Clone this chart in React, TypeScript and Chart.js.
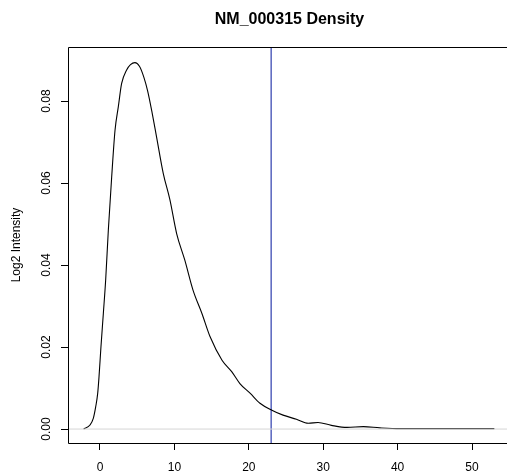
import React, { useEffect, useRef } from "react";
import { Chart, registerables } from "chart.js";

Chart.register(...registerables);

const chartTitle = "NM_000315 Density";
const yTitle = "Log2 Intensity";

const densityX = [
  -2.2, -1.34, -0.9, -0.58, -0.31, -0.13, 0.13, 0.45, 0.76, 1.12, 1.57, 2.02, 2.46, 2.91, 3.58, 4.1,
  4.7, 5.3, 5.9, 6.4, 7.0, 7.6, 8.5, 9.4, 10.3, 11.4, 12.5, 13.7, 14.8, 16.4, 17.7, 18.8, 20.2, 21.5,
  23.1, 24.6, 26.4, 28.0, 29.3, 31.1, 33.2, 35.4, 37.6, 40.3, 45.0, 53.0,
];
const densityY = [
  0.0, 0.001, 0.0026, 0.0054, 0.0087, 0.0128, 0.0201, 0.0282, 0.0363, 0.0485, 0.0615, 0.0729, 0.0786,
  0.0843, 0.0876, 0.0889, 0.0894, 0.0885, 0.0858, 0.0825, 0.0772, 0.0713, 0.0624, 0.0559, 0.0477,
  0.0412, 0.0339, 0.0282, 0.0225, 0.0168, 0.014, 0.0111, 0.0087, 0.0063, 0.0046, 0.0034, 0.0024,
  0.0014, 0.0016, 0.0009, 0.0004, 0.0006, 0.0003, 0.0001, 0.0001, 0.0001,
];
const cutoffX = 23;
const xTicks = [0, 10, 20, 30, 40, 50];
const yTicks = [0, 0.02, 0.04, 0.06, 0.08];
const yTickLabels = ["0.00", "0.02", "0.04", "0.06", "0.08"];
const xRange = [-4.3, 54.7];
const yRange = [-0.0034, 0.0932];

const FONT = "'Liberation Sans', Arial, Helvetica, sans-serif";

const framePlugin = {
  id: "frame",
  afterDatasetsDraw(chart: any) {
    const { ctx, chartArea } = chart;
    const yScale = chart.scales.y;
    ctx.save();
    ctx.strokeStyle = "#000";
    ctx.lineWidth = 1;
    ctx.beginPath();
    ctx.moveTo(chart.width + 5, Math.round(chartArea.top) + 0.5);
    ctx.lineTo(Math.round(chartArea.left) + 0.5, Math.round(chartArea.top) + 0.5);
    ctx.lineTo(Math.round(chartArea.left) + 0.5, Math.round(chartArea.bottom) + 0.5);
    ctx.lineTo(chart.width + 5, Math.round(chartArea.bottom) + 0.5);
    ctx.stroke();

    ctx.fillStyle = "#000";
    ctx.font = `bold 16px ${FONT}`;
    ctx.textAlign = "center";
    ctx.textBaseline = "alphabetic";
    ctx.fillText(chartTitle, (chartArea.left + chartArea.right) / 2 + 2, 23.5);

    ctx.font = `12px ${FONT}`;
    yTicks.forEach((v, i) => {
      const py = yScale.getPixelForValue(v);
      ctx.save();
      ctx.translate(50, py);
      ctx.rotate(-Math.PI / 2);
      ctx.textAlign = "center";
      ctx.textBaseline = "alphabetic";
      ctx.fillText(yTickLabels[i], 0, 0);
      ctx.restore();
    });

    ctx.save();
    ctx.translate(20, (chartArea.top + chartArea.bottom) / 2);
    ctx.rotate(-Math.PI / 2);
    ctx.textAlign = "center";
    ctx.textBaseline = "alphabetic";
    ctx.fillText(yTitle, 0, 0);
    ctx.restore();
    ctx.restore();
  },
};

export default function App() {
  const ref = useRef<HTMLCanvasElement | null>(null);
  useEffect(() => {
    document.body.style.margin = "0";
    const canvas = ref.current!;
    const chart = new Chart(canvas, {
      type: "line",
      data: {
        datasets: [
          {
            label: "zero",
            data: [
              { x: xRange[0], y: 0 },
              { x: xRange[1], y: 0 },
            ],
            borderColor: "#d6d6d6",
            borderWidth: 1,
            pointRadius: 0,
            tension: 0,
          },
          {
            label: "density",
            data: densityX.map((x, i) => ({ x, y: densityY[i] })),
            borderColor: "#000",
            borderWidth: 1.1,
            pointRadius: 0,
            cubicInterpolationMode: "monotone",
          },
          {
            label: "cutoff",
            data: [
              { x: cutoffX, y: yRange[0] },
              { x: cutoffX, y: yRange[1] },
            ],
            borderColor: "#1a2ca6",
            borderWidth: 1.1,
            pointRadius: 0,
            tension: 0,
          },
        ],
      },
      options: {
        responsive: false,
        animation: false,
        devicePixelRatio: 1,
        layout: { padding: { top: 47, left: 0, right: 0, bottom: 0 } },
        plugins: {
          legend: { display: false },
          tooltip: { enabled: false },
          title: { display: false },
        },
        scales: {
          x: {
            type: "linear",
            min: xRange[0],
            max: xRange[1],
            afterBuildTicks: (scale: any) => {
              scale.ticks = xTicks.map((v) => ({ value: v }));
            },
            afterFit: (scale: any) => {
              scale.height = 29;
            },
            border: { display: false },
            grid: {
              drawOnChartArea: false,
              drawTicks: true,
              tickLength: 7,
              color: "#000",
              lineWidth: 1,
            },
            ticks: {
              color: "#000",
              font: { family: FONT, size: 12 },
              padding: 10,
              maxRotation: 0,
              autoSkip: false,
              callback: (v: any) => String(v),
            },
          },
          y: {
            type: "linear",
            min: yRange[0],
            max: yRange[1],
            afterBuildTicks: (scale: any) => {
              scale.ticks = yTicks.map((v) => ({ value: v }));
            },
            afterFit: (scale: any) => {
              scale.width = 68;
            },
            border: { display: false },
            grid: {
              drawOnChartArea: false,
              drawTicks: true,
              tickLength: 7,
              color: "#000",
              lineWidth: 1,
            },
            ticks: { display: false },
          },
        },
      },
      plugins: [framePlugin],
    } as any);
    return () => chart.destroy();
  }, []);
  return (
    <div style={{ width: 507, height: 472, background: "#fff" }}>
      <canvas ref={ref} width={507} height={472} style={{ display: "block" }} />
    </div>
  );
}
